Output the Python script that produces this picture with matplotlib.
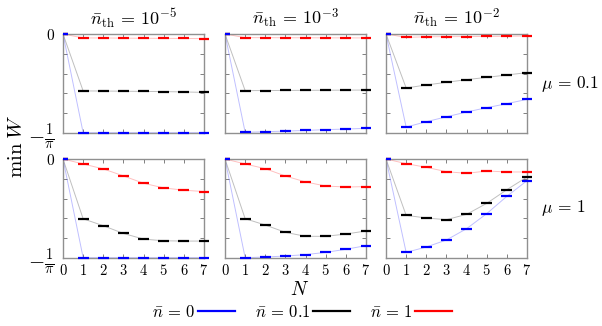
#!/usr/bin/env python3
"""Minimum Wigner value vs N for several thermal occupations and mu."""

import matplotlib
matplotlib.use("Agg")
import matplotlib.pyplot as plt
import numpy as np

plt.rcParams["mathtext.fontset"] = "cm"
plt.rcParams["font.family"] = "serif"
plt.rcParams["font.serif"] = ["cmr10", "DejaVu Serif"]
plt.rcParams["axes.formatter.use_mathtext"] = True

N = np.arange(8)
NTH_LABELS = [r"$\bar{n}_{\rm th}\,=\,10^{-5}$", r"$\bar{n}_{\rm th}\,=\,10^{-3}$",
              r"$\bar{n}_{\rm th}\,=\,10^{-2}$"]
MU_LABELS = [r"$\mu\,=\,0.1$", r"$\mu\,=\,1$"]
NBAR_LABELS = [r"$\bar{n}\,=\,0$", r"$\bar{n}\,=\,0.1$", r"$\bar{n}\,=\,1$"]
COLORS = ["#0000ff", "#000000", "#ff0000"]

# min W in units of -1/pi, per panel: [nbar=0, nbar=0.1, nbar=1]
# row mu=0.1
p11 = [
    [0, 0.997, 0.997, 0.997, 0.997, 0.997, 0.997, 0.997],
    [0, 0.575, 0.576, 0.578, 0.580, 0.582, 0.585, 0.590],
    [0, 0.040, 0.040, 0.042, 0.043, 0.044, 0.045, 0.047],
]
p12 = [
    [0, 0.993, 0.987, 0.981, 0.974, 0.966, 0.960, 0.953],
    [0, 0.572, 0.571, 0.570, 0.569, 0.568, 0.567, 0.566],
    [0, 0.037, 0.037, 0.038, 0.038, 0.039, 0.039, 0.040],
]
p13 = [
    [0, 0.940, 0.886, 0.836, 0.788, 0.744, 0.704, 0.660],
    [0, 0.545, 0.515, 0.488, 0.461, 0.438, 0.414, 0.390],
    [0, 0.034, 0.028, 0.027, 0.026, 0.025, 0.023, 0.020],
]
# row mu=1
p21 = [
    [0, 0.997, 0.997, 0.997, 0.997, 0.997, 0.997, 0.997],
    [0, 0.604, 0.674, 0.752, 0.809, 0.826, 0.829, 0.829],
    [0, 0.050, 0.100, 0.171, 0.245, 0.292, 0.315, 0.329],
]
p22 = [
    [0, 0.997, 0.990, 0.980, 0.966, 0.943, 0.912, 0.875],
    [0, 0.603, 0.667, 0.741, 0.781, 0.781, 0.758, 0.727],
    [0, 0.050, 0.098, 0.172, 0.232, 0.273, 0.283, 0.279],
]
p23 = [
    [0, 0.943, 0.889, 0.818, 0.704, 0.552, 0.377, 0.219],
    [0, 0.569, 0.596, 0.613, 0.559, 0.448, 0.310, 0.182],
    [0, 0.047, 0.084, 0.128, 0.145, 0.121, 0.131, 0.131],
]
PANELS = [[p11, p12, p13], [p21, p22, p23]]

fig = plt.figure(figsize=(6.02, 3.26), dpi=100)
lefts = [63 / 602, 225 / 602, 386 / 602]
bottoms = [(326 - 133) / 326, (326 - 258) / 326]
w, h = 141 / 602, 99 / 326

for r in range(2):
    for c in range(3):
        ax = fig.add_axes([lefts[c], bottoms[r], w, h])
        data = PANELS[r][c]
        for k in (2, 1, 0):
            y = -np.array(data[k]) / np.pi
            ax.plot(N, y, color=COLORS[k], lw=0.7, alpha=0.25, zorder=2)
            xmin = np.clip(N - 0.27, 0, None)
            ax.hlines(y, xmin, N + 0.27, color=COLORS[k], lw=1.6,
                      zorder=3, clip_on=False)
        ax.set_xlim(0, 7)
        ax.set_ylim(-1 / np.pi, 0)
        ax.set_xticks(N)
        ax.set_yticks([-1 / np.pi, 0])
        ax.set_yticks(-np.arange(1, 5) / (5 * np.pi), minor=True)
        ax.tick_params(which="both", direction="in", top=True, right=True,
                       color="#808080", length=3, width=0.7, labelsize=10.5)
        ax.tick_params(axis="y", pad=6)
        for s in ax.spines.values():
            s.set_color("#909090")
            s.set_linewidth(1.0)
        if r == 1:
            ax.set_xticklabels([f"${n}$" for n in N])
        else:
            ax.set_xticklabels([])
            ax.set_title(NTH_LABELS[c], fontsize=13, pad=7)
        if c == 0:
            labs = ax.set_yticklabels([r"$-\frac{1}{\pi}$", r"$0$"])
            labs[0].set_fontsize(15)
            labs[1].set_fontsize(11)
        else:
            ax.set_yticklabels([])
        if c == 2:
            ax.text(1.1, 0.5, MU_LABELS[r], transform=ax.transAxes,
                    fontsize=12.5, va="center", ha="left")

fig.text(17 / 602, 1 - 146 / 326, r"$\min\;W$", rotation=90, fontsize=15,
         ha="center", va="center")
fig.text(300 / 602, 1 - 290 / 326, r"$N$", fontsize=14, ha="center", va="center")

handles = [plt.Line2D([], [], color=col, lw=1.6) for col in COLORS]
fig.legend(handles, NBAR_LABELS, loc="center", bbox_to_anchor=(302 / 602, 1 - 312 / 326),
           ncol=3, frameon=False, markerfirst=False, fontsize=12,
           handlelength=2.2, handletextpad=0.15, columnspacing=1.2,
           borderpad=0, borderaxespad=0)

fig.savefig("out.png", dpi=100)
